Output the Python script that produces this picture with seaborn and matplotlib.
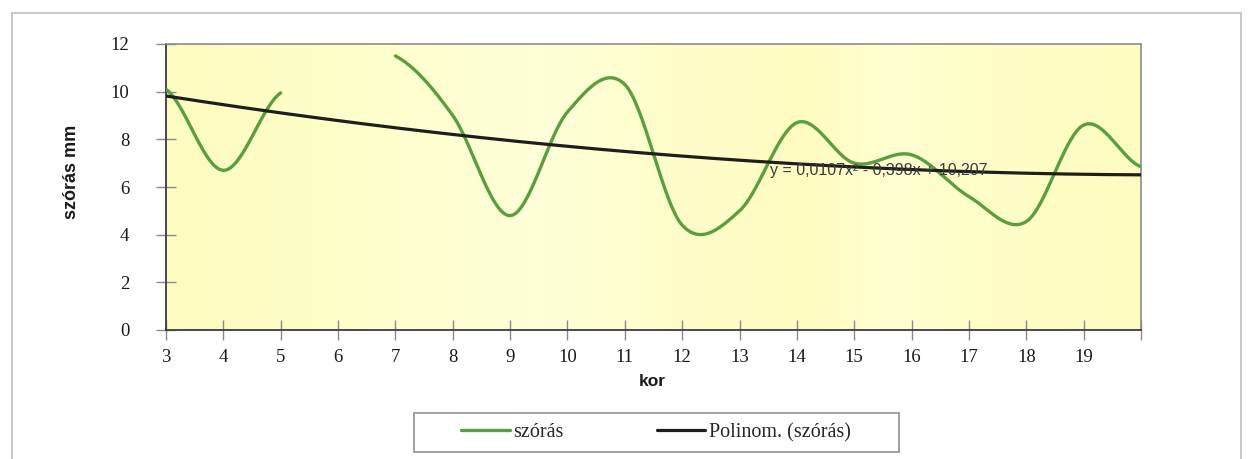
import numpy as np
import pandas as pd
import matplotlib
matplotlib.use("Agg")
import matplotlib.pyplot as plt
import seaborn as sns
from matplotlib.patches import Rectangle
from matplotlib.colors import LinearSegmentedColormap

# --- data ---------------------------------------------------------------
kor = [3, 4, 5, 6, 7, 8, 9, 10, 11, 12, 13, 14, 15, 16, 17, 18, 19, 20]
szoras = [10.1, 6.7, 9.95, np.nan, 11.5, 9.0, 4.8, 9.15, 10.3, 4.4,
          5.0, 8.7, 7.0, 7.35, 5.6, 4.55, 8.6, 6.85]
# second-order trend: y = a*i^2 + b*i + c, with i the category index (1..18)
poly_coef = [0.0107, -0.398, 10.207]
equation_text = "y = 0,0107x² - 0,398x + 10,207"
x_tick_labels = [str(v) for v in range(3, 20)]
y_ticks = [0, 2, 4, 6, 8, 10, 12]

GREEN = "#5B9E3F"
TREND = "#1E1E1E"
SERIF = "Liberation Serif"
SANS = "Liberation Sans"


def smooth_segment(x, y, n=40):
    """Cardinal (Catmull-Rom) smoothing through the given points."""
    x = np.asarray(x, float)
    y = np.asarray(y, float)
    m = np.empty_like(y)
    m[1:-1] = (y[2:] - y[:-2]) / 2
    m[0] = (y[1] - y[0]) / 2
    m[-1] = (y[-1] - y[-2]) / 2
    xs, ys = [], []
    for i in range(len(x) - 1):
        t = np.linspace(0, 1, n, endpoint=(i == len(x) - 2))
        h00 = 2 * t**3 - 3 * t**2 + 1
        h10 = t**3 - 2 * t**2 + t
        h01 = -2 * t**3 + 3 * t**2
        h11 = t**3 - t**2
        ys.append(h00 * y[i] + h10 * m[i] + h01 * y[i + 1] + h11 * m[i + 1])
        xs.append(x[i] + t * (x[i + 1] - x[i]))
    return np.concatenate(xs), np.concatenate(ys)


sns.set_style("white")
plt.rcParams["font.family"] = [SERIF, "DejaVu Serif"]

W, H = 1250, 459
fig = plt.figure(figsize=(W / 100, H / 100), dpi=100)
fig.patch.set_facecolor("white")

# outer chart frame
fig.add_artist(Rectangle((12 / W, -0.05), (1241 - 12) / W, 1 - 13 / H + 0.05,
                         transform=fig.transFigure, fill=False,
                         ec="#c4c4c4", lw=1.3))

left, right, top, bottom = 166, 1141, 44, 330
ax = fig.add_axes([left / W, 1 - bottom / H, (right - left) / W, (bottom - top) / H])

# pale yellow plot-area fill with soft vertical bands
bg_cmap = LinearSegmentedColormap.from_list("bg", [
    (0.00, "#fcfcc0"), (0.15, "#fefec8"), (0.38, "#ffffd8"),
    (0.52, "#fefecb"), (0.66, "#fffcc0"), (0.74, "#ffffd2"),
    (0.85, "#fefec6"), (1.00, "#fdfdc2")])
grad = np.linspace(0, 1, 400)[None, :]
ax.imshow(grad, extent=[3, 20, 0, 12], aspect="auto", cmap=bg_cmap,
          zorder=0, interpolation="bicubic")

# smoothed series, broken where a value is missing
df = pd.DataFrame({"kor": kor, "szoras": szoras})
seg_id = df["szoras"].isna().cumsum()
first = True
for _, seg in df.dropna().groupby(seg_id[df["szoras"].notna()]):
    if len(seg) < 2:
        continue
    sx, sy = smooth_segment(seg["kor"], seg["szoras"])
    sns.lineplot(x=sx, y=sy, ax=ax, color=GREEN, lw=2.4, sort=False,
                 estimator=None, label="szórás" if first else None, zorder=3)
    first = False

# polynomial trend line
xx = np.linspace(kor[0], kor[-1], 300)
idx = xx - kor[0] + 1
trend = np.polyval(poly_coef, idx)
sns.lineplot(x=xx, y=trend, ax=ax, color=TREND, lw=2.3, sort=False,
             estimator=None, label="Polinom. (szórás)", zorder=4)

ax.text((770 - left) / (right - left), (bottom - 171) / (bottom - top),
        equation_text, transform=ax.transAxes, ha="left", va="center",
        fontsize=11.5, color="#3a3a3a", family=SANS, zorder=5)

ax.set_xlim(3, 20)
ax.set_ylim(0, 12)
ax.set_xticks(range(3, 21))
ax.set_xticklabels(x_tick_labels + [""])
ax.set_yticks(y_ticks)
ax.set_yticklabels([str(v) for v in y_ticks])
ax.tick_params(axis="both", which="major", bottom=True, left=True,
               direction="inout", length=15, width=1,
               color="#8a8a8a", labelsize=13.5, labelcolor="#1a1a1a")
ax.tick_params(axis="y", pad=19)
ax.tick_params(axis="x", pad=6)
ax.grid(False)

for side in ("left", "bottom"):
    ax.spines[side].set_color("#3c3c3c")
    ax.spines[side].set_linewidth(1.3)
for side in ("top", "right"):
    ax.spines[side].set_color("#8c8c8c")
    ax.spines[side].set_linewidth(1.2)

ax.set_xlabel("")
ax.set_ylabel("")
fig.text(652 / W, 1 - 381 / H, "kor", ha="center", va="center",
         fontsize=12.5, fontweight="bold", family=SANS, color="#1a1a1a")
fig.text(71 / W, 1 - 172 / H, "szórás mm", ha="center", va="center",
         rotation=90, fontsize=13, fontweight="bold", family=SANS,
         color="#1a1a1a")

# legend box below the plot
fig.add_artist(Rectangle((414 / W, 1 - 452 / H), (899 - 414) / W, 39 / H,
                         transform=fig.transFigure, fill=False,
                         ec="#a0a0a0", lw=1.4))
handles, labels = ax.get_legend_handles_labels()
ax.get_legend().remove()
fig.legend(handles, labels, loc="center", ncol=2,
           bbox_to_anchor=(656 / W, 1 - 432.5 / H), frameon=False,
           handlelength=2.4, handletextpad=0.2, columnspacing=4.6,
           borderpad=0.2, prop={"family": SERIF, "size": 14.5})

fig.savefig("out.png", dpi=100, facecolor="white")
